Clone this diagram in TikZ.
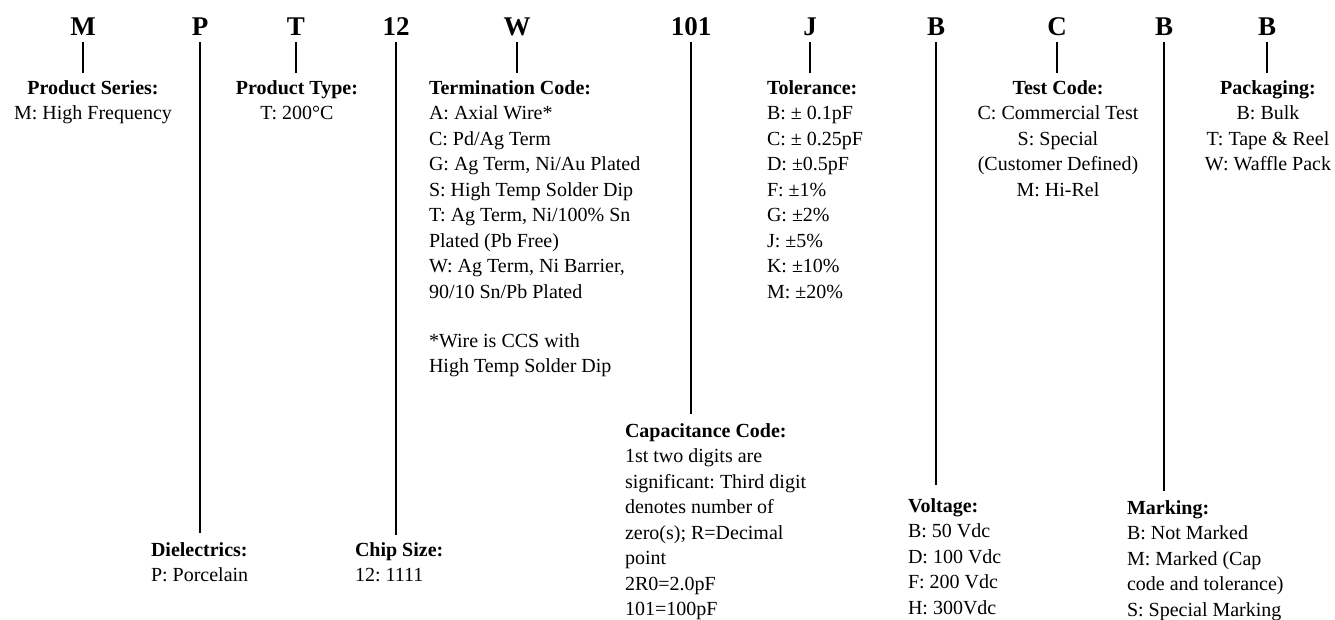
\documentclass[tikz,border=0pt]{standalone}
\usepackage{fontspec}
\setmainfont{Liberation Serif}
\usepackage{tikz}
\usetikzlibrary{positioning}
\frenchspacing

\begin{document}
\begin{tikzpicture}[x=1pt,y=-1pt,
  codechar/.style={font=\fontsize{27}{27}\selectfont\bfseries, anchor=base, inner xsep=0pt, inner ysep=7pt, text depth=0pt},
  codelabel/.style={font=\fontsize{20}{25.5}\selectfont, inner sep=0pt, outer sep=0pt},
  codeline/.style={line width=1.6pt}]
\useasboundingbox (0,0) rectangle (1335,619);

\node[codechar] (cM) at (83,35) {M};
\node[codechar] (cP) at (200,35) {P};
\node[codechar] (cT) at (296,35) {T};
\node[codechar] (cSize) at (396,35) {12};
\node[codechar] (cW) at (517,35) {W};
\node[codechar] (cCap) at (691,35) {101};
\node[codechar] (cJ) at (810,35) {J};
\node[codechar] (cV) at (936,35) {B};
\node[codechar] (cTest) at (1057,35) {C};
\node[codechar] (cMark) at (1164,35) {B};
\node[codechar] (cPack) at (1267,35) {B};

\node[codelabel, align=center, anchor=north] (lM) at (93,80.5) {\textbf{Product Series:}\\M: High Frequency};
\node[codelabel, align=center, anchor=north] (lT) at (297,80.5) {\textbf{Product Type:}\\T: 200°C};
\node[codelabel, align=left, anchor=north west] (lW) at (429,80.5) {\textbf{Termination Code:}\\A: Axial Wire*\\C: Pd/Ag Term\\G: Ag Term, Ni/Au Plated\\S: High Temp Solder Dip\\T: Ag Term, Ni/100\% Sn\\Plated (Pb Free)\\W: Ag Term, Ni Barrier,\\90/10 Sn/Pb Plated\\[23.5pt]*Wire is CCS with\\High Temp Solder Dip};
\node[codelabel, align=left, anchor=north west] (lJ) at (767,80.5) {\textbf{Tolerance:}\\B: ± 0.1pF\\C: ± 0.25pF\\D: ±0.5pF\\F: ±1\%\\G: ±2\%\\J: ±5\%\\K: ±10\%\\M: ±20\%};
\node[codelabel, align=center, anchor=north] (lTest) at (1058,80.5) {\textbf{Test Code:}\\C: Commercial Test\\S: Special\\(Customer Defined)\\M: Hi-Rel};
\node[codelabel, align=center, anchor=north] (lPack) at (1268,80.5) {\textbf{Packaging:}\\B: Bulk\\T: Tape \& Reel\\W: Waffle Pack};

\node[codelabel, align=left, anchor=north west] (lP) at (151,542.5) {\textbf{Dielectrics:}\\P: Porcelain};
\node[codelabel, align=left, anchor=north west] (lSize) at (355,542.5) {\textbf{Chip Size:}\\12: 1111};
\node[codelabel, align=left, anchor=north west] (lCap) at (625,423.5) {\textbf{Capacitance Code:}\\1st two digits are\\significant: Third digit\\denotes number of\\zero(s); R=Decimal\\point\\2R0=2.0pF\\101=100pF};
\node[codelabel, align=left, anchor=north west] (lV) at (908,498.5) {\textbf{Voltage:}\\B: 50 Vdc\\D: 100 Vdc\\F: 200 Vdc\\H: 300Vdc};
\node[codelabel, align=left, anchor=north west] (lMark) at (1127,500.5) {\textbf{Marking:}\\B: Not Marked\\M: Marked (Cap\\code and tolerance)\\S: Special Marking};

\foreach \c/\l/\g in {cM/lM/7.5, cP/lP/9.5, cT/lT/7.5, cSize/lSize/7.5, cW/lW/7.5, cCap/lCap/9.5, cJ/lJ/7.5, cV/lV/13.5, cTest/lTest/7.5, cMark/lMark/9.5, cPack/lPack/7.5}
  \draw[codeline, shorten >=\g pt] (\c.south) -- (\c.south |- \l.north);
\end{tikzpicture}
\end{document}
